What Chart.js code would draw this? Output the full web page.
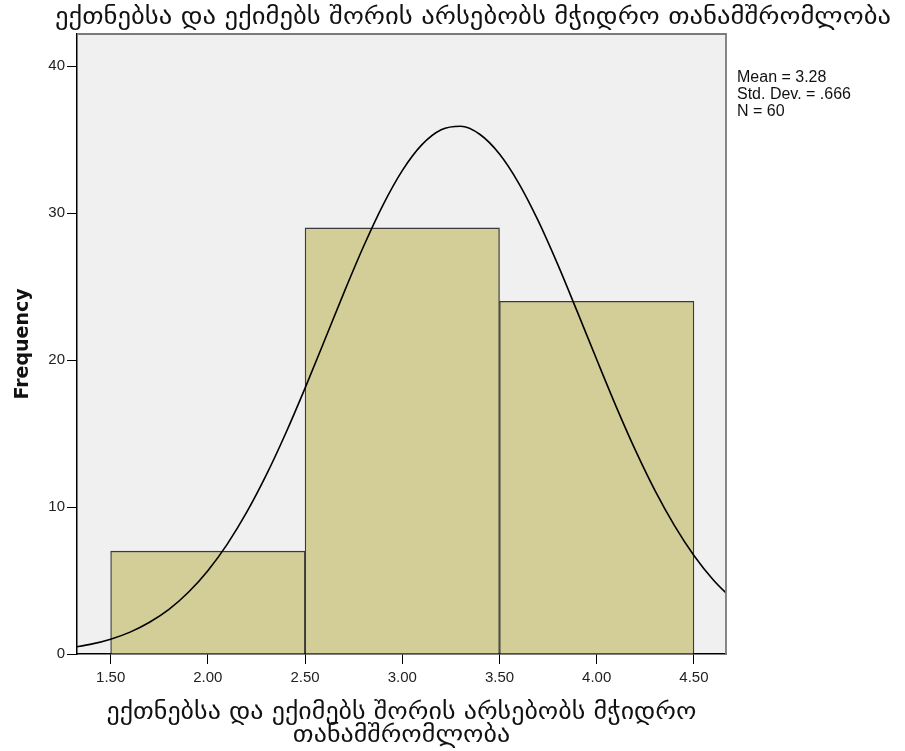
<!DOCTYPE html>
<html>
<head>
<meta charset="utf-8">
<script src="https://cdn.jsdelivr.net/npm/chart.js@4"></script>
<style>
html, body { margin: 0; padding: 0; background: #fff; }
#wrap { width: 905px; height: 751px; position: relative; }
</style>
</head>
<body>
<div id="wrap"><canvas id="histChart"></canvas></div>
<script>
const chartTitle = 'ექთნებსა და ექიმებს შორის არსებობს მჭიდრო თანამშრომლობა';
const xTitle = ['ექთნებსა და ექიმებს შორის არსებობს მჭიდრო', 'თანამშრომლობა'];
const statsLines = ['Mean = 3.28', 'Std. Dev. = .666', 'N = 60'];

// histogram bins (centres) and counts
const binCenters = [2.0, 3.0, 4.0];
const frequencies = [7, 29, 24];

// normal curve
const curveX = [1.3, 1.4, 1.5, 1.6, 1.7, 1.8, 1.9, 2.0, 2.1, 2.2, 2.3, 2.4, 2.5, 2.6, 2.7, 2.8, 2.9,
  3.0, 3.1, 3.2, 3.3, 3.4, 3.5, 3.6, 3.7, 3.8, 3.9, 4.0, 4.1, 4.2, 4.3, 4.4, 4.5, 4.6, 4.7];
const curveY = [0.43, 0.67, 1.01, 1.49, 2.16, 3.04, 4.20, 5.67, 7.48, 9.65, 12.17, 15.01, 18.10, 21.34, 24.60, 27.72, 30.54,
  32.90, 34.65, 35.68, 35.92, 35.36, 34.03, 32.02, 29.46, 26.50, 23.30, 20.04, 16.84, 13.84, 11.12, 8.74, 6.71, 5.04, 3.70];

const xTicks = [1.5, 2.0, 2.5, 3.0, 3.5, 4.0, 4.5];
const yTicks = [0, 10, 20, 30, 40];
const xMin = 1.327, xMax = 4.665;
const yMin = 0, yMax = 42.2;

const tickFont = { family: 'Liberation Sans', size: 15 };

// draws a line of georgian text a bit wider, like the SPSS font
function wideText(ctx, text, cx, cy, stretch) {
  ctx.save();
  ctx.translate(cx, cy);
  ctx.scale(stretch, 1);
  ctx.fillText(text, 0, 0);
  ctx.restore();
}

// grey plot background, frame, titles and stats box
const spssFrame = {
  id: 'spssFrame',
  beforeDraw(chart) {
    const { ctx, chartArea: a } = chart;
    ctx.save();
    ctx.fillStyle = '#f0f0f0';
    ctx.fillRect(a.left, a.top, a.right - a.left, a.bottom - a.top);
    ctx.restore();
  },
  afterDatasetsDraw(chart) {
    const { ctx, chartArea: a } = chart;
    ctx.save();
    ctx.strokeStyle = '#7a7a7a';
    ctx.lineWidth = 1.8;
    ctx.beginPath();
    ctx.moveTo(a.left, a.top);
    ctx.lineTo(a.right, a.top);
    ctx.lineTo(a.right, a.bottom);
    ctx.stroke();
    ctx.restore();
  },
  afterDraw(chart) {
    const { ctx, chartArea: a } = chart;
    ctx.save();
    ctx.fillStyle = '#111';
    ctx.textAlign = 'center';
    ctx.textBaseline = 'middle';
    ctx.font = '24px "DejaVu Sans"';
    wideText(ctx, chartTitle, 473, 18, 1.11);
    ctx.font = '23px "DejaVu Sans"';
    const cx = (a.left + a.right) / 2;
    xTitle.forEach((line, i) => wideText(ctx, line, cx, 713 + i * 23, 1.13));
    ctx.font = '16px "Liberation Sans"';
    ctx.textAlign = 'left';
    statsLines.forEach((s, i) => ctx.fillText(s, 737, 78 + i * 17));
    ctx.restore();
  }
};

new Chart(document.getElementById('histChart'), {
  type: 'bar',
  data: {
    datasets: [{
      type: 'line',
      data: curveX.map((x, i) => ({ x: x, y: curveY[i] })),
      xAxisID: 'x',
      borderColor: '#000',
      borderWidth: 1.6,
      pointRadius: 0,
      cubicInterpolationMode: 'monotone',
      fill: false,
      order: 1
    }, {
      type: 'bar',
      data: binCenters.map((x, i) => ({ x: x, y: frequencies[i] })),
      xAxisID: 'xb',
      backgroundColor: '#d3ce97',
      borderColor: '#3a3a3a',
      borderWidth: 1.3,
      barPercentage: 1,
      categoryPercentage: 1,
      grouped: false,
      order: 2
    }]
  },
  options: {
    responsive: true,
    maintainAspectRatio: false,
    animation: false,
    layout: { padding: { top: 34, right: 179, left: 0, bottom: 0 } },
    plugins: { legend: { display: false }, tooltip: { enabled: false } },
    scales: {
      x: {
        type: 'linear',
        min: xMin,
        max: xMax,
        offset: false,
        afterBuildTicks: s => { s.ticks = xTicks.map(v => ({ value: v })); },
        afterFit: s => { s.height = 97; },
        ticks: { font: tickFont, color: '#222', padding: 5, maxRotation: 0, callback: v => v.toFixed(2) },
        grid: { drawOnChartArea: false, drawTicks: true, tickLength: 10, color: '#000', offset: false },
        border: { display: true, color: '#000', width: 1.5 }
      },
      xb: {
        type: 'linear',
        min: xMin,
        max: xMax,
        offset: false,
        display: false,
        grid: { offset: false },
        afterBuildTicks: s => { s.ticks = []; }
      },
      y: {
        min: yMin,
        max: yMax,
        afterBuildTicks: s => { s.ticks = yTicks.map(v => ({ value: v })); },
        afterFit: s => { s.width = 77; },
        ticks: { font: tickFont, color: '#222', padding: 2 },
        grid: { drawOnChartArea: false, drawTicks: true, tickLength: 10, color: '#000' },
        border: { display: true, color: '#000', width: 1.5 },
        title: {
          display: true, text: 'Frequency', color: '#111',
          font: { family: 'DejaVu Sans', size: 19, weight: 'bold' },
          padding: { top: 12 }
        }
      }
    }
  },
  plugins: [spssFrame]
});
</script>
</body>
</html>
